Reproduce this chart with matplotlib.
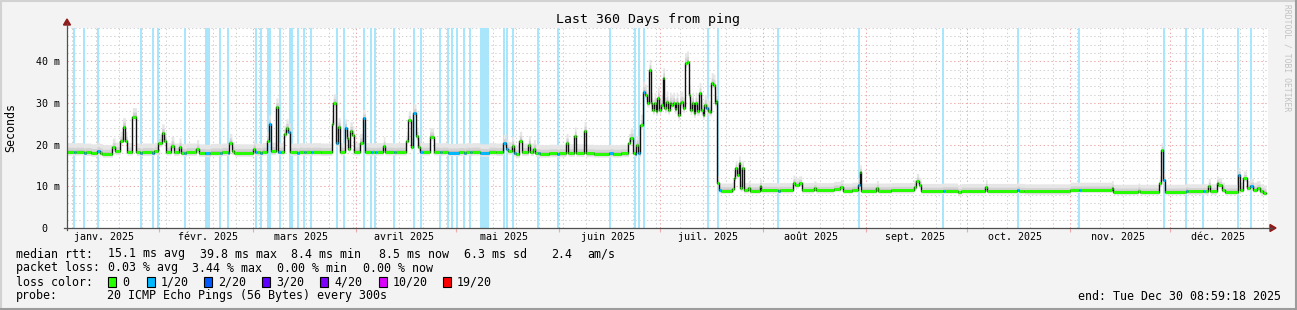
import matplotlib
matplotlib.use('Agg')
import matplotlib.pyplot as plt
import matplotlib.dates as mdates
from matplotlib.patches import Rectangle, Polygon
from matplotlib.lines import Line2D
from matplotlib.ticker import MultipleLocator, NullFormatter, FixedLocator
import numpy as np
from datetime import datetime, timedelta

plt.rcParams['font.family'] = ['DejaVu Sans Mono', 'DejaVu Sans']
plt.rcParams['lines.scale_dashes'] = False

# ---------------- data ----------------
title = "Last 360 Days from ping"
ylabel = "Seconds"
end_time = datetime(2025, 12, 30, 8, 59, 18)
span_days = 360

month_labels = ["janv. 2025", "févr. 2025", "mars 2025", "avril 2025", "mai 2025",
                "juin 2025", "juil. 2025", "août 2025", "sept. 2025", "oct. 2025",
                "nov. 2025", "déc. 2025"]
ytick_values = [0, 10, 20, 30, 40]
ytick_labels = ["0  ", "10 m", "20 m", "30 m", "40 m"]

# median rtt (ms), as steps starting at day offset from the start of the graph
med_days = [0.0, 2.0, 2.6, 5.0, 5.6, 7.2, 9.0, 9.8, 10.6, 13.6, 14.4, 15.9, 16.7, 17.5, 18.0,
            19.6, 20.8, 22.0, 22.6, 25.6, 26.2, 27.4, 28.4, 29.1, 29.7, 31.2, 32.0, 33.6, 34.2,
            35.2, 35.8, 38.8, 39.5, 41.3, 43.0, 45.8, 46.4, 48.2, 48.6, 49.4, 50.2, 55.8, 56.4,
            57.0, 58.0, 58.6, 59.9, 60.4, 61.0, 62.6, 63.3, 64.0, 65.0, 65.6, 66.3, 66.9, 69.0,
            69.6, 71.0, 71.6, 73.0, 73.6, 76.0, 79.4, 79.8, 80.6, 81.2, 81.9, 83.2, 83.8, 84.3,
            84.8, 85.5, 86.0, 87.7, 88.6, 89.4, 91.0, 91.6, 92.2, 92.8, 94.8, 95.3, 98.0, 98.6,
            101.7, 102.3, 103.0, 103.8, 104.6, 105.2, 105.8, 106.6, 108.7, 109.9, 111.8, 112.4,
            114.2, 117.4, 119.0, 119.6, 120.8, 121.4, 123.8, 126.5, 128.5, 130.8, 131.6, 132.2,
            133.3, 133.9, 134.6, 135.6, 136.3, 138.3, 138.9, 139.8, 140.4, 141.2, 141.8, 144.5,
            147.0, 147.6, 149.6, 150.2, 152.1, 152.6, 155.0, 155.6, 158.0, 162.6, 163.6, 166.0,
            168.3, 168.8, 169.7, 170.3, 170.6, 171.2, 171.9,
            172.6, 173.2, 173.8, 174.5, 175.0, 175.5, 176.0, 176.5, 177.0, 177.5, 178.0, 178.6,
            179.1, 179.6, 180.1, 180.6, 181.1, 181.6, 182.1, 182.6, 183.1, 183.6, 184.1, 184.6,
            185.1, 185.7, 186.3, 186.8, 187.3, 187.8, 188.3, 188.8, 189.5, 190.0, 190.5, 191.0,
            191.6, 192.1, 192.6, 193.1, 193.7, 194.2, 194.5,
            194.9, 195.4, 196.0, 199.4, 199.8, 200.3, 200.8, 201.3, 201.8, 202.3, 202.8, 204.2,
            204.8, 207.6, 208.1, 213.0, 213.6, 217.6, 218.2, 219.3, 220.2, 223.8, 224.5, 229.8,
            231.8, 232.6, 235.3, 237.0, 237.6, 238.1, 242.6, 243.2, 247.0, 253.8, 254.6, 255.3,
            256.0, 262.5, 263.1, 267.0, 268.0, 275.3, 275.8, 284.8, 285.4, 287.0, 300.7, 303.4,
            304.0, 313.1, 313.6, 321.0, 321.6, 327.4, 328.0, 328.6, 329.1, 335.3, 335.9, 340.4,
            341.0, 342.1, 342.7, 344.6, 345.1, 346.1, 347.0, 351.0, 351.7, 352.6, 353.6, 354.6,
            355.6, 356.6, 357.6, 358.6]
med_ms = [18.3, 18.2, 18.3, 18.1, 18.2, 18.0, 18.4, 18.1, 17.8, 19.4, 18.4, 21.0, 24.3, 21.0, 18.3,
          26.7, 18.2, 18.0, 18.2, 18.1, 18.4, 20.3, 22.8, 21.0, 18.3, 19.8, 18.2, 19.5, 18.1,
          18.0, 18.2, 19.0, 18.0, 17.9, 18.1, 18.0, 18.2, 18.1, 20.5, 18.4, 18.0, 19.0, 18.2,
          18.2, 18.1, 18.3, 21.0, 25.0, 18.4, 29.0, 18.3, 18.3, 22.5, 24.0, 23.0, 18.2, 18.1,
          18.3, 18.2, 18.3, 18.2, 18.3, 18.2, 25.0, 30.0, 20.3, 24.3, 18.3, 24.0, 21.5, 19.0,
          23.3, 22.4, 18.3, 20.5, 26.3, 18.3, 18.2, 18.3, 18.2, 18.3, 19.7, 18.3, 18.2, 18.3,
          21.0, 25.9, 19.5, 27.6, 22.0, 19.5, 18.3, 18.3, 21.9, 18.3, 18.2, 18.3,
          18.1, 18.2, 18.1, 18.3, 18.2, 18.3, 18.0, 18.3, 18.2, 20.3, 19.0, 18.5,
          19.8, 18.0, 17.7, 21.0, 18.2, 20.0, 18.2, 19.0, 18.0, 17.9, 17.8, 17.9,
          17.8, 17.9, 20.5, 18.0, 22.0, 18.0, 23.3, 17.9, 17.8, 17.9, 17.8, 17.9,
          20.5, 21.6, 18.0, 17.7, 20.0, 17.9, 24.7,
          32.7, 31.9, 30.0, 37.9, 29.9, 28.3, 29.9, 28.0, 31.2, 28.3, 29.5, 35.9,
          28.7, 30.3, 28.3, 30.0, 29.5, 30.0, 28.5, 30.0, 27.1, 30.0, 30.3, 28.7,
          39.5, 39.9, 31.9, 28.3, 30.0, 27.5, 30.0, 28.0, 32.3, 28.3, 27.1, 29.5,
          28.7, 28.0, 27.9, 34.7, 34.3, 30.0, 30.5,
          10.7, 9.1, 9.0, 9.3, 11.9, 14.4, 12.7, 15.5, 9.5, 14.4, 9.1, 9.6,
          9.0, 10.0, 9.1, 9.0, 9.1, 10.9, 10.3, 10.7, 9.1, 9.5, 9.1, 9.4,
          9.8, 9.0, 9.2, 10.3, 13.4, 9.0, 9.6, 9.0, 9.1, 9.8, 11.3, 10.3,
          8.9, 9.0, 9.0, 8.6, 8.9, 9.8, 8.9, 9.2, 8.9, 8.8, 9.2, 9.2,
          9.2, 9.6, 8.7, 9.0, 8.7, 10.7, 18.7, 11.5, 8.7, 9.0, 8.8, 8.9,
          8.8, 10.1, 8.8, 10.7, 10.3, 9.2, 8.7, 12.7, 9.2, 11.9, 9.6, 10.1,
          9.2, 9.6, 8.8, 8.5]
med_loss = [0, 1, 0, 1, 0, 0, 1, 0, 0, 0, 0, 0, 0, 0, 0,
            0, 0, 1, 0, 1, 0, 0, 0, 0, 0, 0, 0, 0, 0,
            1, 0, 0, 0, 1, 0, 1, 0, 1, 0, 0, 0, 0, 1,
            0, 1, 0, 0, 1, 0, 0, 1, 0, 0, 0, 1, 0, 1,
            0, 1, 0, 1, 0, 0, 0, 0, 1, 0, 0, 1, 0, 0,
            0, 0, 0, 0, 1, 0, 1, 0, 1, 0, 0, 0, 1, 0,
            0, 0, 0, 1, 0, 0, 1, 0, 0, 0, 1, 0,
            1, 0, 1, 0, 1, 0, 1, 0, 0, 1, 1, 0,
            0, 1, 0, 0, 0, 0, 0, 0, 0, 1, 0, 0,
            1, 0, 0, 0, 0, 0, 0, 0, 0, 1, 0, 0,
            0, 0, 0, 1, 0, 1, 0,
            1, 0, 0, 0, 0, 0, 0, 0, 0, 0, 0, 0,
            0, 0, 0, 0, 0, 0, 0, 0, 0, 0, 0, 0,
            0, 0, 0, 0, 0, 0, 0, 0, 0, 0, 0, 0,
            1, 0, 0, 0, 0, 0, 0,
            0, 1, 0, 0, 0, 0, 0, 0, 0, 0, 0, 0,
            0, 0, 0, 1, 0, 0, 0, 0, 0, 0, 0, 0,
            0, 0, 0, 1, 0, 0, 0, 0, 0, 0, 0, 0,
            0, 1, 0, 0, 0, 0, 0, 1, 0, 0, 0, 1,
            0, 0, 0, 0, 0, 0, 0, 1, 0, 1, 0, 1,
            0, 0, 0, 0, 0, 0, 0, 1, 0, 0, 0, 1,
            0, 0, 0, 0]
med_end_day = 359.4

# smoke spread (ms) around the median, per period
smoke_days = [0.0, 171.9, 194.9]
smoke_above = [2.2, 2.6, 1.8]
smoke_below = [0.8, 1.0, 0.7]

# loss background bars: centre day and duration (days)
loss_bar_days = [2.1, 5.1, 9.3, 22.2, 25.8, 27.3, 35.4, 42.2, 45.9, 48.3, 56.7, 58.2, 60.3,
                 60.9, 63.8, 66.8, 67.4, 69.2, 71.0, 73.1, 80.9, 83.0, 89.0, 91.1, 92.3, 98.0,
                 104.0, 106.1, 111.8, 114.2, 115.4, 116.9, 119.0, 120.8, 125.1, 131.0, 131.9,
                 133.7, 141.2, 147.2, 162.8, 170.3, 171.5, 173.0, 192.1, 195.1, 213.1, 237.4,
                 262.6, 285.1, 303.4, 328.8, 335.4, 340.5, 351.0, 354.9]
loss_bar_len = [0.6, 0.6, 0.7, 0.6, 0.6, 0.5, 0.6, 1.6, 0.6, 0.6, 0.6, 0.6, 0.6,
                0.6, 0.6, 0.6, 0.5, 0.6, 0.6, 0.6, 0.7, 0.6, 0.6, 0.6, 0.6, 0.6,
                0.6, 0.6, 0.6, 0.6, 0.6, 0.6, 0.6, 0.6, 2.7, 0.6, 0.6,
                0.6, 0.6, 0.6, 0.6, 0.6, 0.6, 0.6, 0.7, 0.7, 0.6, 0.6,
                0.7, 0.6, 0.6, 0.7, 0.7, 0.7, 0.7, 0.7]

loss_colors = ['#26ff00', '#00b8ff', '#0059ff', '#5e00ff', '#7e00ff', '#dd00ff', '#ff0000']
loss_labels = ['0', '1/20', '2/20', '3/20', '4/20', '10/20', '19/20']
loss_thresholds = [0, 1, 2, 3, 4, 10, 19]

stats_rtt = ["median rtt:", "15.1 ms avg", "39.8 ms max", "8.4 ms min", "8.5 ms now",
             "6.3 ms sd", "2.4", "am/s"]
stats_loss = ["packet loss:", "0.03 % avg", "3.44 % max", "0.00 % min", "0.00 % now"]
probe_text = ["probe:", "20 ICMP Echo Pings (56 Bytes) every 300s"]
end_text = "end: Tue Dec 30 08:59:18 2025"
credit = "RRDTOOL / TOBI OETIKER"

# ---------------- drawing ----------------
W, H, DPI = 1297, 310, 100
fig = plt.figure(figsize=(W / DPI, H / DPI), dpi=DPI, facecolor='#f3f3f3')

def fx(px):
    return px / W

def fy(py):
    return 1 - py / H

L, R, T, B = 67, 1268, 28, 228
ax = fig.add_axes([fx(L), fy(B), (R - L) / W, (B - T) / H])
ax.set_facecolor('white')

start = end_time - timedelta(days=span_days)
t0 = mdates.date2num(start)
ax.set_xlim(t0, t0 + span_days)
ax.set_ylim(0, 48)

GRAY = '#d2d2d2'
RED = '#eeaaaa'
dot = (0, (1.0, 1.8))

# grids
ax.xaxis.set_major_locator(mdates.MonthLocator(bymonthday=1))
ax.xaxis.set_minor_locator(mdates.WeekdayLocator(byweekday=mdates.MO))
ax.xaxis.set_major_formatter(NullFormatter())
ax.yaxis.set_major_locator(FixedLocator(ytick_values))
ax.yaxis.set_minor_locator(MultipleLocator(2))
ax.set_yticklabels(ytick_labels)
ax.grid(which='minor', color=GRAY, linestyle=dot, linewidth=0.75)
ax.grid(which='major', color=RED, linestyle=dot, linewidth=0.75)
ax.set_axisbelow(True)
ax.tick_params(axis='x', which='major', length=3, color=RED, width=0.8, direction='out')
ax.tick_params(axis='x', which='minor', length=0)
ax.tick_params(axis='y', which='both', length=0, pad=5, labelsize=7.2)
for s in ax.spines.values():
    s.set_visible(False)

# loss background
for d, l in zip(loss_bar_days, loss_bar_len):
    ax.axvspan(t0 + d - l / 2, t0 + d + l / 2, color='#a9e5fb', lw=0, zorder=1)

# smoke
d_arr = np.array(med_days + [med_end_day])
v = np.array(med_ms + [med_ms[-1]])
idx = np.searchsorted(np.array(smoke_days), d_arr, side='right') - 1
up = np.array(smoke_above)[idx]
dn = np.array(smoke_below)[idx]
xe = t0 + d_arr
ax.fill_between(xe, v - dn, v + up, step='post', color='#e6e6e6', lw=0, zorder=2)
ax.fill_between(xe, v - dn * 0.55, v + up * 0.5, step='post', color='#d2d2d2', lw=0, zorder=2.1)
ax.fill_between(xe, v - 0.3, v + up * 0.2, step='post', color='#b4b4b4', lw=0, zorder=2.2)

# median line
ax.step(xe, v, where='post', color='#111111', lw=1.0, zorder=4)

def loss_color(n):
    c = loss_colors[0]
    for th, col in zip(loss_thresholds, loss_colors):
        if n >= th:
            c = col
    return c

cols = [loss_color(n) for n in med_loss]
ax.hlines(v[:-1], xe[:-1], xe[1:], colors=cols, lw=2.1, zorder=5)

# month labels (mid-month)
for m, lab in enumerate(month_labels, start=1):
    xm = mdates.date2num(datetime(2025, m, 15, 12))
    ax.text(xm, -0.0475, lab, transform=ax.get_xaxis_transform(), ha='center',
            va='center', fontsize=7.2, color='black')

# axis lines and arrows
AX = '#505050'
fig.add_artist(Line2D([fx(L), fx(L)], [fy(B + 2), fy(23)], color=AX, lw=0.9))
fig.add_artist(Line2D([fx(L - 3), fx(1272)], [fy(B), fy(B)], color=AX, lw=0.9))
ARW = '#8e1b1b'
fig.add_artist(Polygon([[fx(63.5), fy(25)], [fx(70.5), fy(25)], [fx(67), fy(19)]],
                       closed=True, color=ARW, transform=fig.transFigure))
fig.add_artist(Polygon([[fx(1270), fy(224.5)], [fx(1270), fy(231.5)], [fx(1276), fy(228)]],
                       closed=True, color=ARW, transform=fig.transFigure))

# titles
fig.text(0.5, fy(20), title, ha='center', va='center', fontsize=9.5)
fig.text(fx(11), fy(127), ylabel, ha='center', va='center', rotation=90, fontsize=8.4)
fig.text(fx(1287), fy(4), credit, ha='center', va='top', rotation=270, fontsize=5.8,
         color='#c2c2c2')

# legend
FS = 8.4
x_rtt = [16, 108, 200, 291, 379, 464, 551, 587]
for s, xp in zip(stats_rtt, x_rtt):
    fig.text(fx(xp), fy(254), s, ha='left', va='center', fontsize=FS)
x_loss = [16, 108, 192, 277, 363]
for s, xp in zip(stats_loss, x_loss):
    fig.text(fx(xp), fy(268), s, ha='left', va='center', fontsize=FS)
fig.text(fx(16), fy(282), "loss color:", ha='left', va='center', fontsize=FS)
box_x = [108, 147, 204, 262, 320, 378.5, 443]
for bx, col, lab in zip(box_x, loss_colors, loss_labels):
    fig.add_artist(Rectangle((fx(bx), fy(287)), 8 / W, 10 / H, transform=fig.transFigure,
                             facecolor=col, edgecolor='black', lw=0.8))
    fig.text(fx(bx + 14), fy(282), lab, ha='left', va='center', fontsize=FS)
fig.text(fx(16), fy(296), probe_text[0], ha='left', va='center', fontsize=FS)
fig.text(fx(107), fy(296), probe_text[1], ha='left', va='center', fontsize=FS)
fig.text(fx(1281), fy(296), end_text, ha='right', va='center', fontsize=FS)

# frame
fig.add_artist(Line2D([0, 1], [fy(1), fy(1)], color='#d2d2d2', lw=1.5))
fig.add_artist(Line2D([fx(1), fx(1)], [0, 1], color='#d2d2d2', lw=1.5))
fig.add_artist(Line2D([0, 1], [fy(309), fy(309)], color='#9c9c9c', lw=1.5))
fig.add_artist(Line2D([fx(1296), fx(1296)], [0, 1], color='#9c9c9c', lw=1.5))

fig.savefig('out.png', dpi=DPI, facecolor=fig.get_facecolor())
